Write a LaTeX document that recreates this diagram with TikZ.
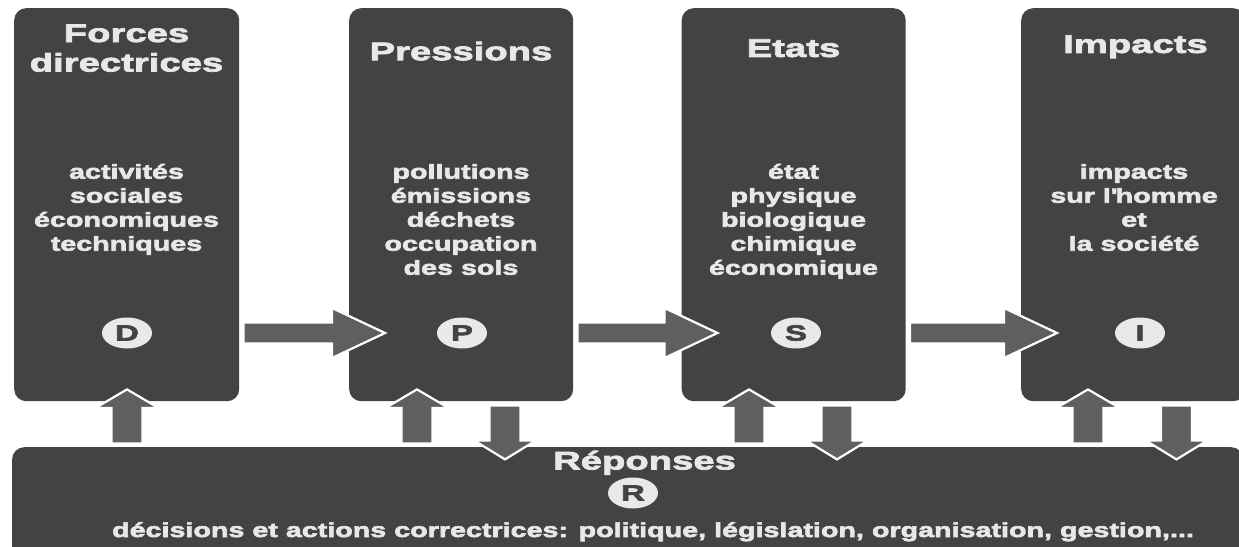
\documentclass[tikz,border=0pt]{standalone}
\usepackage{fontspec}
\setmainfont{Liberation Sans}
\newfontfamily\dpsif[FakeStretch=1.5, FakeBold=3]{Liberation Sans Bold}
\newfontfamily\dpsib[FakeStretch=1.42, FakeBold=3]{Liberation Sans Bold}
\usetikzlibrary{calc,shapes.geometric}
\definecolor{boxgray}{HTML}{434343}
\definecolor{arrowgray}{HTML}{5F5F5F}
\definecolor{txtgray}{HTML}{E8E8E8}
\definecolor{circfill}{HTML}{E9E9E9}
\tikzset{
  panel/.style={fill=boxgray, rounded corners=12pt, inner sep=0pt, anchor=north west, draw=none},
  blockarrow/.style={fill=arrowgray, draw=white, line width=2.2pt, line join=miter},
  titletext/.style={text=txtgray, font=\dpsif\fontsize{25.5}{29.5}\selectfont, align=center, anchor=north, inner sep=0pt},
  bodytext/.style={text=txtgray, font=\dpsib\fontsize{20.2}{24}\selectfont, align=center, anchor=north, inner sep=0pt},
  badge/.style={ellipse, fill=circfill, minimum width=50pt, minimum height=31pt, inner sep=0pt, text=boxgray, font=\dpsif\fontsize{22}{22}\selectfont}
}
\newcommand\dpsiharrow[3]{%
  \draw[blockarrow] ($(#1.east |- #3)+(4,-10.5)$) -- ($(#2.west |- #3)+(-17,-10.5)$) -- ($(#2.west |- #3)+(-17,-25)$) -- ($(#2.west |- #3)+(36,0)$) -- ($(#2.west |- #3)+(-17,25)$) -- ($(#2.west |- #3)+(-17,10.5)$) -- ($(#1.east |- #3)+(4,10.5)$) -- cycle;}
\newcommand\dpsiup[2]{%
  \draw[blockarrow] ($(#1.south west)+(#2,-12)$) -- ++(31.5,18.5) -- ++(-16,0) -- ++(0,35.5) -- ++(-31,0) -- ++(0,-35.5) -- ++(-16,0) -- cycle;}
\newcommand\dpsidown[2]{%
  \draw[blockarrow] ($(#1.south west)+(#2,58)$) -- ++(31,-19) -- ++(-15.5,0) -- ++(0,-35) -- ++(-31,0) -- ++(0,35) -- ++(-15.5,0) -- cycle;}
\newcommand\dpsitt{\rule{0pt}{25pt}}
\newcommand\dpsibt{\rule{0pt}{20pt}}
\begin{document}
\begin{tikzpicture}[x=1pt,y=-1pt]
\fill[white] (0,0) rectangle (1239,546);
\useasboundingbox (0,0) rectangle (1239,546);
% panels
\node[panel, minimum width=225pt, minimum height=393pt] (D) at (14,8) {};
\node[panel, minimum width=224pt, minimum height=393pt] (P) at (349,8) {};
\node[panel, minimum width=224pt, minimum height=393pt] (S) at (681.5,8) {};
\node[panel, minimum width=224pt, minimum height=393pt] (I) at (1021,8) {};
\node[panel, minimum width=1231pt, minimum height=113pt] (R) at (12,447) {};
% badges
\node[badge] (cD) at (127,333) {D};
\node[badge] (cP) at (462,333) {P};
\node[badge] (cS) at (796,333) {S};
\node[badge] (cI) at (1140,333) {I};
\node[badge] (cR) at (633,493) {R};
% horizontal arrows
\dpsiharrow{D}{P}{cD}
\dpsiharrow{P}{S}{cP}
\dpsiharrow{S}{I}{cS}
% vertical arrows
\dpsiup{D}{113}
\dpsiup{P}{68}
\dpsidown{P}{156}
\dpsiup{S}{67.5}
\dpsidown{S}{155.5}
\dpsiup{I}{67}
\dpsidown{I}{155.5}
% titles
\node[titletext] (tD) at (126.5,16.8) {\dpsitt Forces\\directrices};
\node[titletext] (tP) at (461,35) {\dpsitt Pressions};
\node[titletext] (tS) at (793.5,31.7) {\dpsitt Etats};
\node[titletext] (tI) at (1135.5,27.7) {\dpsitt Impacts};
\node[titletext] (tR) at (644.5,444.3) {\dpsitt Réponses};
% bodies
\node[bodytext] (bD) at (126.5,158.5) {\dpsibt activités\\sociales\\économiques\\techniques};
\node[bodytext] (bP) at (461,158.5) {\dpsibt pollutions\\émissions\\déchets\\occupation\\des sols};
\node[bodytext] (bS) at (793.5,158.5) {\dpsibt état\\physique\\biologique\\chimique\\économique};
\node[bodytext] (bI) at (1134,158.5) {\dpsibt impacts\\sur l\textquotesingle homme\\et\\la société};
\node[bodytext, anchor=base] (bR) at (653,537) {décisions et actions correctrices: politique, législation, organisation, gestion,...};
\end{tikzpicture}
\end{document}
